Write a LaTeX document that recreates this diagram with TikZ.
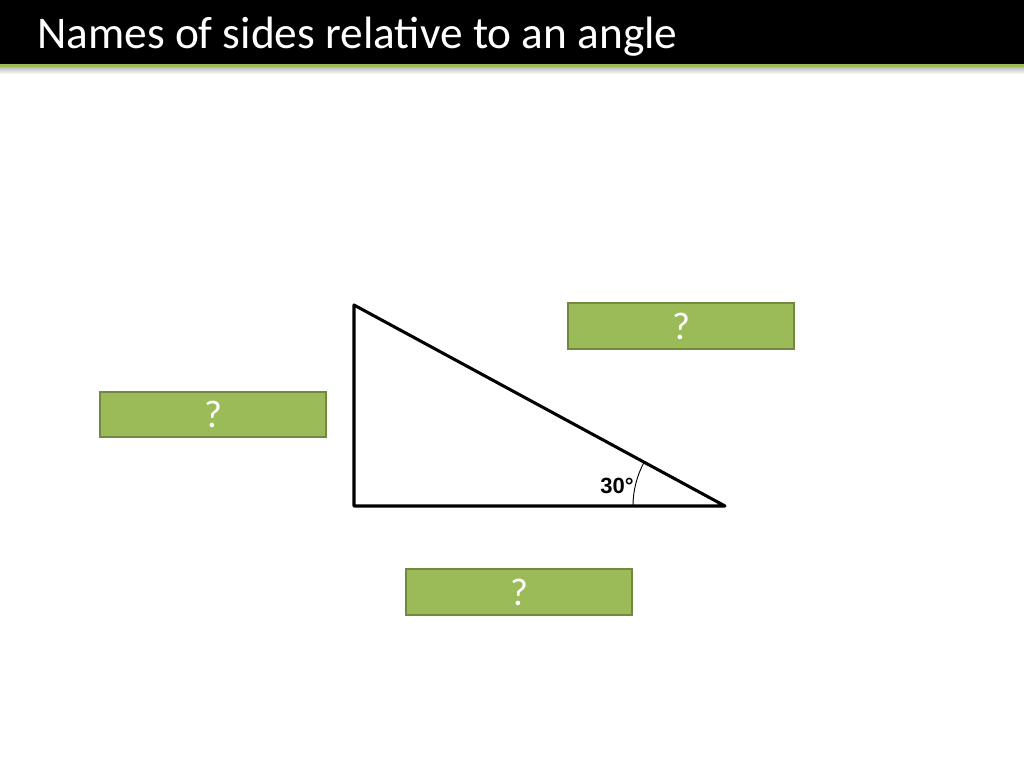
\documentclass[tikz,border=0pt]{standalone}
\usepackage{fontspec}
\setmainfont{Carlito}
\newfontfamily\arialfont{Liberation Sans}
\usetikzlibrary{positioning}
\definecolor{box-green}{HTML}{9BBB59}
\definecolor{box-edge}{HTML}{71893F}

\begin{document}
\begin{tikzpicture}[x=0.75pt,y=-0.75pt,
	answerbox/.style={draw=box-edge, line width=1.5pt, fill=box-green, minimum width=169pt, minimum height=34pt, text=white, font=\fontsize{29}{30}\selectfont, inner sep=0pt}]
	\useasboundingbox (0,0) rectangle (1024,768);
	\fill[white] (0,0) rectangle (1024,768);
	\fill[black] (0,0) rectangle (1024,64);
	\fill[box-green] (0,64) rectangle (1024,67.5);
	\shade[top color=black!25, bottom color=white] (0,67.5) rectangle (1024,74);
	\node (title) [anchor=west, text=white, font=\fontsize{34}{36}\selectfont, inner sep=0pt] at (37,37) {Names of sides relative to an angle};
	
	\coordinate (top) at (354,305);
	\coordinate (right) at (354,506);
	\coordinate (angle) at (725,506);
	\draw[line width=2.3pt, line join=round] (top) -- (right) -- (angle) -- cycle;
	\draw[line width=0.7pt] ([xshift=-69pt]angle) arc[start angle=180, end angle=151.6, radius=69pt];
	\node (deg) [font=\arialfont\bfseries\fontsize{16.5}{18}\selectfont, inner sep=0pt] at (617,486) {30°};
	
	\node (oppbox) [answerbox] at (213,414.5) {?};
	\node (hypbox) [answerbox] at (681,326) {?};
	\node (adjbox) [answerbox] at (519,592) {?};
\end{tikzpicture}
\end{document}
